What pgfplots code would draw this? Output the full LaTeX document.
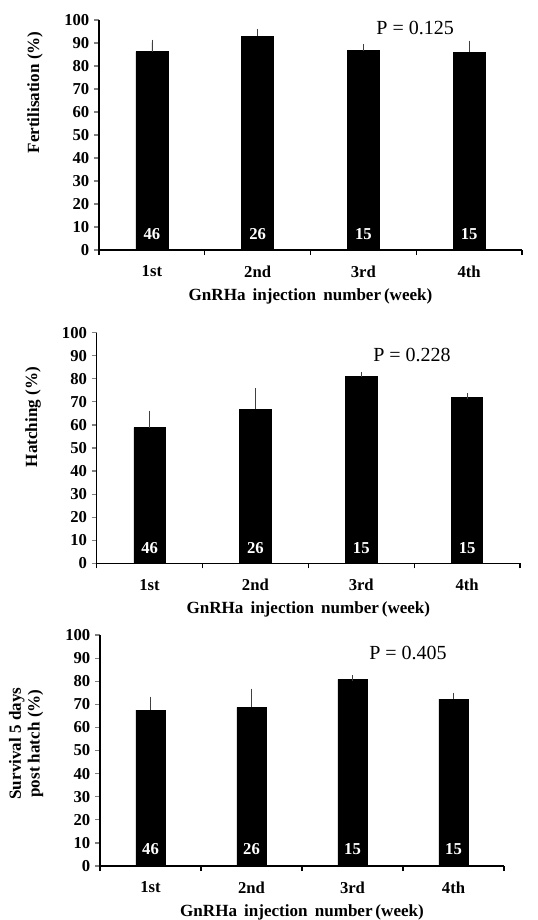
\documentclass[border=0pt]{standalone}
\usepackage{fontspec}
\setmainfont{Liberation Serif}
\usepackage{pgfplots}
\pgfplotsset{compat=1.18}

\newcommand{\lblfont}{\fontsize{12.8}{14}\selectfont\bfseries}
\newcommand{\tckfont}{\fontsize{12.5}{13}\selectfont\bfseries}
\newcommand{\pfont}{\fontsize{15}{17}\selectfont}

\pgfplotsset{
  panel/.style={
    scale only axis,
    xmin=0.5, xmax=4.5,
    ymin=0, ymax=100,
    axis x line*=bottom,
    axis y line*=left,
    axis line style={line width=0.9pt},
    ytick={0,10,...,100},
    xtick={1,2,3,4},
    xticklabels={1st,2nd,3rd,4th},
    x tick style={draw=none},
    extra x ticks={0.5,1.5,2.5,3.5,4.5},
    extra x tick labels={},
    extra x tick style={x tick style={draw=black, line width=0.9pt}},
    tick align=outside,
    major tick length=3.75pt,
    y tick style={line width=0.9pt},
    /pgf/number format/assume math mode=true,
    tick label style={font=\tckfont},
    xticklabel style={yshift=-4.5pt},
    xlabel={GnRHa\, injection\, number\,(week)},
    every axis x label/.style={at={(axis description cs:0.5,-0.2)}, anchor=center, font=\lblfont},
  },
  bars/.style={
    ybar, bar width=#1, fill=black, draw=black,
    error bars/.cd, y dir=plus, y explicit,
    error bar style={line width=0.5pt, black!75},
    error mark options={line width=0.5pt, black!75, mark size=2pt},
  },
  counts/.style={
    draw=none, mark=none,
    point meta=explicit symbolic,
    nodes near coords,
    every node near coord/.append style={anchor=center, text=white, font=\tckfont},
  },
}

\begin{document}
\begin{tikzpicture}
\path[use as bounding box] (0,0) rectangle (403.5pt,-690pt);

% Fertilisation
\begin{axis}[panel,
  at={(74.25pt,-187.5pt)}, anchor=south west,
  width=317.25pt, height=172.5pt,
  ylabel={Fertilisation (\%)},
  every axis y label/.style={at={(axis description cs:-0.151,0.685)}, rotate=90, anchor=center, font=\lblfont},
]
\addplot[bars=24pt] coordinates {
  (1,86.2) +- (0,4.1)
  (2,92.9) +- (0,2.0)
  (3,86.7) +- (0,1.6)
  (4,86.0) +- (0,3.9)
};
\addplot[counts] coordinates {(1,6.8)[46] (2,6.8)[26] (3,6.8)[15] (4,6.8)[15]};
\node[font=\pfont] at (axis cs:3.49,96.5) {P = 0.125};
\end{axis}

% Hatching
\begin{axis}[panel,
  at={(72.5pt,-422.5pt)}, anchor=south west,
  width=317.5pt, height=173pt,
  ylabel={Hatching (\%)},
  every axis y label/.style={at={(axis description cs:-0.150,0.634)}, rotate=90, anchor=center, font=\lblfont},
]
\addplot[bars=23.5pt] coordinates {
  (1,58.8) +- (0,6.1)
  (2,66.9) +- (0,7.8)
  (3,81.1) +- (0,0.7)
  (4,71.8) +- (0,0.7)
};
\addplot[counts] coordinates {(1,6.5)[46] (2,6.5)[26] (3,6.5)[15] (4,6.5)[15]};
\node[font=\pfont] at (axis cs:3.48,90.3) {P = 0.228};
\end{axis}

% Survival
\begin{axis}[panel,
  at={(75pt,-649.5pt)}, anchor=south west,
  width=303pt, height=173.25pt,
  ylabel={Survival 5 days\\post hatch (\%)},
  every axis y label/.style={at={(axis description cs:-0.183,0.53)}, rotate=90, anchor=center, align=center, font=\lblfont},
]
\addplot[bars=22pt] coordinates {
  (1,67.5) +- (0,4.7)
  (2,68.7) +- (0,6.9)
  (3,80.8) +- (0,0.6)
  (4,72.2) +- (0,1.7)
};
\addplot[counts] coordinates {(1,7.4)[46] (2,7.4)[26] (3,7.4)[15] (4,7.4)[15]};
\node[font=\pfont] at (axis cs:3.55,92) {P = 0.405};
\end{axis}
\end{tikzpicture}
\end{document}
